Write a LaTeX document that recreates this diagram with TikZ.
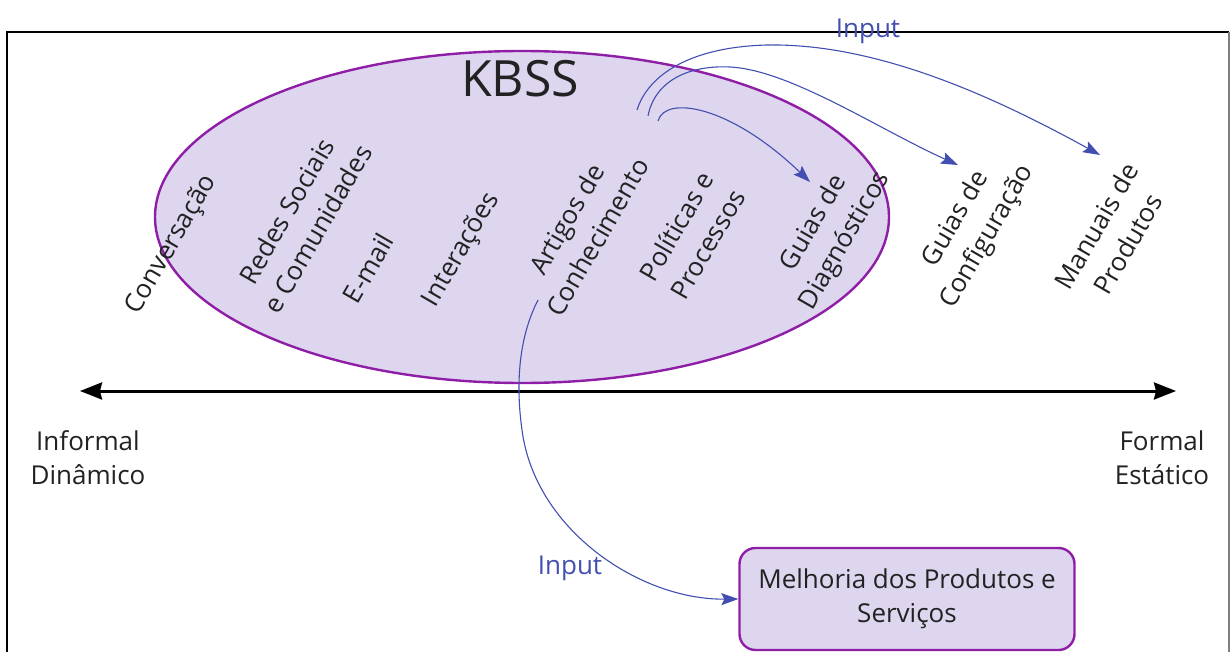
\documentclass[tikz,border=0pt]{standalone}
\usepackage{fontspec}
\setmainfont{Open Sans}
\usetikzlibrary{arrows.meta}
\definecolor{kfill}{RGB}{222,213,239}
\definecolor{kline}{RGB}{142,30,166}
\definecolor{flow}{RGB}{66,78,176}
\definecolor{ink}{RGB}{34,34,34}
\begin{document}
\begin{tikzpicture}[x=1pt,y=-1pt,
  every node/.style={font=\fontsize{26}{34}\selectfont, text=ink, inner sep=0pt},
  kind/.style={rotate=60, align=center, font=\fontsize{26}{36}\selectfont},
  flowlabel/.style={text=flow},
  flowline/.style={draw=flow, line width=1.1pt, -{Stealth[length=17pt,width=12pt,inset=3pt]}},
  axis/.style={draw=black, line width=3pt, {Stealth[length=22pt,width=17pt,inset=2pt]}-{Stealth[length=22pt,width=17pt,inset=2pt]}},
  kbssshape/.style={fill=kfill, draw=kline, line width=2.4pt},
  outcome/.style={fill=kfill, draw=kline, line width=2.4pt, rounded corners=16pt,
    minimum width=335pt, minimum height=102pt, align=center}
]
\useasboundingbox (0,0) rectangle (1230,652);
% frame
\draw[line width=2pt] (7,652) -- (7,32) -- (1229,32);
\draw[line width=2pt, gray] (1229,32) -- (1229,652);

% KBSS region
\draw[kbssshape] (522,217) ellipse [x radius=367, y radius=166];
\node[font=\fontsize{50}{60}\selectfont] (kbss) at (520,79) {KBSS};

% knowledge sources, from informal to formal
\node[kind] (conv) at (172,245) {Conversação};
\node[kind] (redes) at (302,220) {Redes Sociais\\e Comunidades};
\node[kind] (email) at (368,268) {E-mail};
\node[kind] (inter) at (462,250) {Interações};
\node[kind] (artigos) at (582,228) {Artigos de\\Conhecimento};
\node[kind] (politicas) at (692,235) {Políticas e\\Processos};
\node[kind] (diag) at (830,232) {Guias de\\Diagnósticos};
\node[kind] (config) at (972,228) {Guias de\\Configuração};
\node[kind] (manuais) at (1112,235) {Manuais de\\Produtos};

% axis
\coordinate (axL) at (80,391);
\coordinate (axR) at (1176,391);
\draw[axis] (axL) -- (axR);
\node[align=center] (informal) at (88,458) {Informal\\Dinâmico};
\node[align=center] (formal) at (1162,458) {Formal\\Estático};

% outcome box
\node[outcome] (melhoria) at (907,599) {Melhoria dos Produtos e\\Serviços};

% inputs from the knowledge articles
\node[flowlabel] (inTop) at (868,31) {Input};
\node[flowlabel] (inBot) at (570,568) {Input};

\coordinate (s1) at (637,110);
\coordinate (s2) at (648,116);
\coordinate (s3) at (658,121);
\coordinate (t1) at (1100,155);
\coordinate (t2) at (958,165);
\coordinate (t3) at (810,182);
\coordinate (s4) at (538,300);

\draw[flowline] (s3) .. controls (665,95) and (730,105) .. (t3);
\draw[flowline] (s2) .. controls (655,80) and (690,65) .. (730,67)
                     .. controls (790,70) and (880,130) .. (t2);
\draw[flowline] (s1) .. controls (648,75) and (690,47) .. (767,45)
                     .. controls (880,43) and (1000,100) .. (t1);
\draw[flowline] (s4) .. controls (520,335) and (515,380) .. (522,430)
                     .. controls (535,530) and (640,600) .. (melhoria.west);
\end{tikzpicture}
\end{document}
